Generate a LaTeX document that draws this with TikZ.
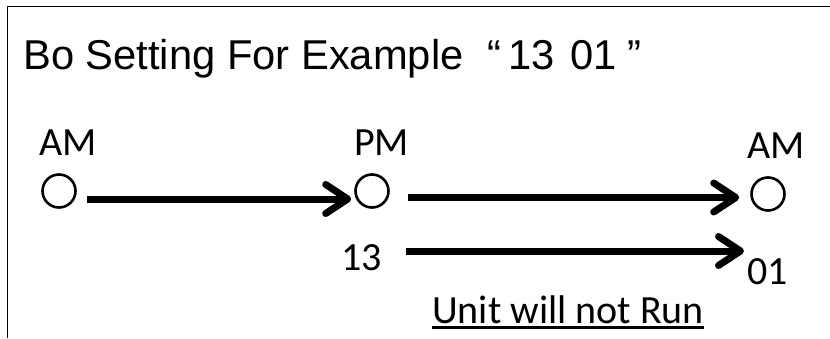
\documentclass[tikz,border=0pt]{standalone}
\usepackage{fontspec}
\setmainfont{Liberation Sans}
\newfontfamily\calfont{Carlito}
\usetikzlibrary{arrows.meta}
\begin{document}
\begin{tikzpicture}[x=1pt,y=-1pt,
  frame/.style={line width=1.6pt},
  lbl/.style={inner sep=0pt,anchor=base west,font=\calfont\fontsize{40}{46}\selectfont},
  ttl/.style={inner sep=0pt,anchor=base west,font=\fontsize{41.7}{48}\selectfont},
  ring/.style={circle,draw,line width=2.6pt,minimum size=33pt,inner sep=0pt},
  arr/.style={line width=7pt,-{Straight Barb[length=22pt,width=29pt,round]}}]
\useasboundingbox (0,0) rectangle (830,338);
\draw[frame] (7.5,338) -- (7.5,6.5) -- (830,6.5);
\node[ttl] (title) at (23,69) {Bo Setting For Example\hspace{24pt}“\hspace{7pt}13\hspace{16pt}01\hspace{10pt}”};
\node[lbl] (am1) at (39,155) {AM};
\node[lbl] (pm) at (354,155) {PM};
\node[lbl] (am2) at (747,158) {AM};
\node[ring] (c1) at (59,191) {};
\node[ring] (c2) at (372,191) {};
\node[ring] (c3) at (768,194) {};
\node[lbl] (n13) at (341,270) {13};
\node[lbl] (n01) at (747,284) {01};
\node[lbl] (unit) at (432,323) {Unit will not Run};
\draw[line width=3pt] ([yshift=-4pt]unit.base west) -- ([yshift=-4pt]unit.base east);
\draw[arr] ([xshift=10.5pt,yshift=-8pt]c1.east) -- ([xshift=-3pt,yshift=-8pt]c2.west);
\draw[arr] ([xshift=18pt,yshift=-6.5pt]c2.east) -- ([xshift=-11pt,yshift=-3.5pt]c3.west);
\draw[arr] ([xshift=24pt]n13.east |- 0,251) -- ([xshift=-3pt]n01.west |- 0,251);
\end{tikzpicture}
\end{document}
